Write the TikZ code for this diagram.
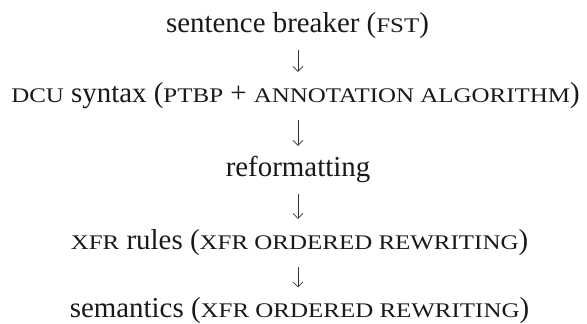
\documentclass[tikz,border=0pt]{standalone}
\usepackage{fontspec}
\setmainfont{Liberation Serif}
\newfontfamily\regfont{Liberation Serif}
\newfontfamily\scfont[FakeStretch=1.2]{Liberation Serif}
\usetikzlibrary{arrows.meta}
\newcommand\mysc[1]{{\scfont\fontsize{20.8bp}{20.8bp}\selectfont #1}}
\tikzset{
  stage/.style={anchor=base, inner sep=0pt, text height=20bp, text depth=6bp,
    font=\regfont\fontsize{28.9bp}{30bp}\selectfont, text=black!90},
  flow/.style={draw=black!80, line width=0.7bp, shorten <=12bp, shorten >=10bp,
    -{Straight Barb[length=5bp,width=10bp,line width=0.7bp]}}
}
\begin{document}
\begin{tikzpicture}[x=1bp,y=-1bp]
\useasboundingbox (0,0) rectangle (587,323);
\node[stage] (s1) at (297.5,32) {sentence breaker (\mysc{FST})};
\node[stage] (s2) at (295.5,102) {\mysc{DCU} syntax (\mysc{PTBP} + \mysc{ANNOTATION ALGORITHM})};
\node[stage] (s3) at (298,176) {reformatting};
\node[stage] (s4) at (299.5,249) {\mysc{XFR} rules (\mysc{XFR ORDERED REWRITING})};
\node[stage] (s5) at (299.5,317.5) {semantics (\mysc{XFR ORDERED REWRITING})};
\draw[flow] (s1.south -| 298,0) -- (s2.north -| 298,0);
\draw[flow] (s2.south -| 298,0) -- (s3.north -| 298,0);
\draw[flow] (s3.south -| 298,0) -- (s4.north -| 298,0);
\draw[flow] (s4.south -| 298,0) -- (s5.north -| 298,0);
\end{tikzpicture}
\end{document}
